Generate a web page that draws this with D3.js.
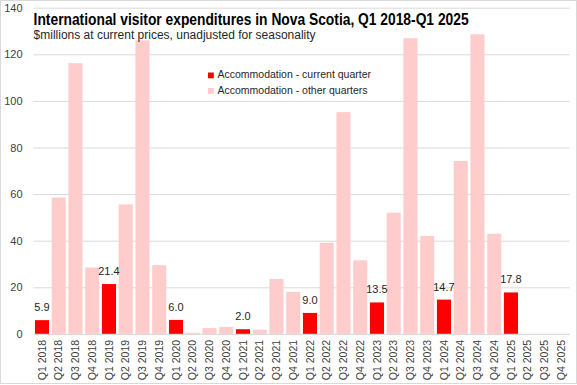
<!DOCTYPE html>
<html lang="en">
<head>
    <meta charset="UTF-8">
    <script src="https://cdn.jsdelivr.net/npm/d3@7"></script>
    <style>
        * { margin: 0; padding: 0; }
        body { background: #fff; font-family: "Liberation Sans", Arial, sans-serif; }
        svg { display: block; }
        .grid line { stroke: #d9d9d9; }
        .axis text { fill: #404040; }
    </style>
    <title>International visitor expenditures in Nova Scotia</title>
</head>
<body>
<div id="chart"></div>
<script>
    // quarters on the x axis
    var quarters = [
        "Q1 2018", "Q2 2018", "Q3 2018", "Q4 2018",
        "Q1 2019", "Q2 2019", "Q3 2019", "Q4 2019",
        "Q1 2020", "Q2 2020", "Q3 2020", "Q4 2020",
        "Q1 2021", "Q2 2021", "Q3 2021", "Q4 2021",
        "Q1 2022", "Q2 2022", "Q3 2022", "Q4 2022",
        "Q1 2023", "Q2 2023", "Q3 2023", "Q4 2023",
        "Q1 2024", "Q2 2024", "Q3 2024", "Q4 2024",
        "Q1 2025", "Q2 2025", "Q3 2025", "Q4 2025"
    ];
    // accommodation spending, $ millions (null = not yet available)
    var accommodation = [
        5.9, 58.5, 116.2, 28.5,
        21.4, 55.6, 126.0, 29.5,
        6.0, 0.5, 2.5, 3.0,
        2.0, 1.8, 23.6, 18.0,
        9.0, 39.1, 95.2, 31.6,
        13.5, 52.0, 126.9, 42.0,
        14.7, 74.2, 128.6, 43.0,
        17.8, null, null, null
    ];
    var currentQuarter = "Q1";
    var yTicks = [0, 20, 40, 60, 80, 100, 120, 140];
    var legendLabels = ["Accommodation - current quarter", "Accommodation - other quarters"];
    var colors = { current: "#ff0000", other: "#ffcccc" };

    var w = 577, h = 385;
    var plotLeft = 33.6, plotRight = 569.6, plotTop = 7.7, plotBottom = 333.9;

    var svg = d3.select("#chart").append("svg")
        .attr("width", w)
        .attr("height", h);

    // chart border
    svg.append("rect")
        .attr("x", 0.5).attr("y", 0.5)
        .attr("width", w - 1).attr("height", h - 2)
        .attr("fill", "white")
        .attr("stroke", "#d9d9d9");

    var x = d3.scaleBand()
        .domain(quarters)
        .range([plotLeft, plotRight])
        .paddingInner(0.16)
        .paddingOuter(0.08);

    var y = d3.scaleLinear()
        .domain([0, 140])
        .range([plotBottom, plotTop]);

    // y axis + gridlines
    var yAxis = d3.axisLeft(y)
        .tickValues(yTicks)
        .tickSize(-(plotRight - plotLeft))
        .tickPadding(11);

    var gy = svg.append("g")
        .attr("class", "axis grid")
        .attr("transform", "translate(" + plotLeft + ",0)")
        .call(yAxis)
        .attr("font-size", "11px")
        .attr("font-family", "Liberation Sans, Arial, sans-serif");
    gy.select(".domain").remove();

    var data = quarters.map(function(q, i) {
        return { q: q, v: accommodation[i], cur: q.slice(0, 2) === currentQuarter };
    }).filter(function(d) { return d.v !== null; });

    // bars
    svg.append("g")
        .selectAll("rect")
        .data(data)
        .enter()
        .append("rect")
        .attr("x", function(d) { return x(d.q); })
        .attr("width", x.bandwidth())
        .attr("y", function(d) { return y(d.v); })
        .attr("height", function(d) { return y(0) - y(d.v); })
        .attr("fill", function(d) { return d.cur ? colors.current : colors.other; });

    // data labels on current-quarter bars
    svg.append("g")
        .selectAll("text")
        .data(data.filter(function(d) { return d.cur; }))
        .enter()
        .append("text")
        .attr("x", function(d) { return x(d.q) + x.bandwidth() / 2; })
        .attr("y", function(d) { return y(d.v) - 9; })
        .attr("text-anchor", "middle")
        .attr("font-size", "11px")
        .attr("fill", "#262626")
        .text(function(d) { return d.v.toFixed(1); });

    // x axis
    var gx = svg.append("g")
        .attr("class", "axis")
        .attr("transform", "translate(0," + plotBottom + ")")
        .call(d3.axisBottom(x).tickSize(0).tickPadding(0))
        .attr("font-size", "10.5px")
        .attr("font-family", "Liberation Sans, Arial, sans-serif");
    gx.select(".domain").attr("stroke", "#d9d9d9");
    gx.selectAll("text")
        .attr("transform", "rotate(-90)")
        .attr("text-anchor", "end")
        .attr("x", -6)
        .attr("y", 0)
        .attr("dy", "0.35em");

    // title
    svg.append("text")
        .attr("x", plotLeft)
        .attr("y", 25)
        .attr("font-family", "Liberation Sans Narrow, Liberation Sans, Arial, sans-serif")
        .attr("font-weight", "bold")
        .attr("font-size", "17px")
        .attr("fill", "#000")
        .attr("textLength", 435)
        .attr("lengthAdjust", "spacingAndGlyphs")
        .text("International visitor expenditures in Nova Scotia, Q1 2018-Q1 2025");

    svg.append("text")
        .attr("x", plotLeft)
        .attr("y", 38.5)
        .attr("font-size", "12.5px")
        .attr("fill", "#262626")
        .attr("textLength", 282)
        .attr("lengthAdjust", "spacingAndGlyphs")
        .text("$millions at current prices, unadjusted for seasonality");

    // legend
    var legend = svg.append("g")
        .selectAll("g")
        .data(legendLabels)
        .enter()
        .append("g")
        .attr("transform", function(d, i) { return "translate(208," + (72.5 + i * 15.5) + ")"; });
    legend.append("rect")
        .attr("width", 5.8)
        .attr("height", 5.8)
        .attr("fill", function(d, i) { return i === 0 ? colors.current : colors.other; });
    legend.append("text")
        .attr("x", 9.5)
        .attr("y", 5.5)
        .attr("font-size", "10.5px")
        .attr("fill", "#262626")
        .text(function(d) { return d; });
</script>
</body>
</html>
